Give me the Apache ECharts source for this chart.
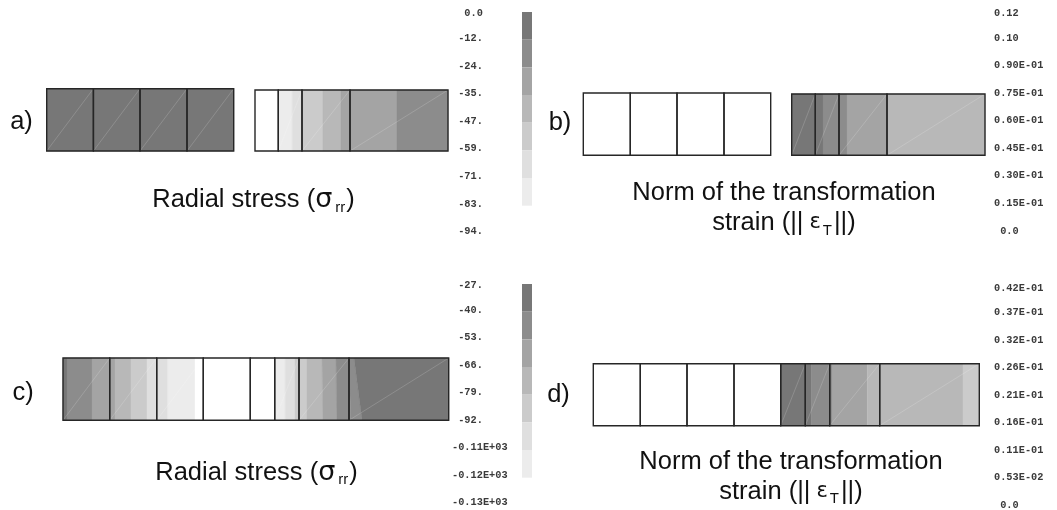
<!DOCTYPE html>
<html>
<head>
<meta charset="utf-8">
<style>html,body{margin:0;padding:0;background:#fff}#c{width:1057px;height:510px}</style>
<script src="https://cdn.jsdelivr.net/npm/echarts@6/dist/echarts.min.js"></script>
</head>
<body>
<div id="c"></div>
<script>
// Contour grey levels: darkest (0) to lightest (6), 7 = below the range (white)
const levelColors = ['#777777','#8c8c8c','#a4a4a4','#b8b8b8','#cbcbcb','#dfdfdf','#ececec','#ffffff'];
const scaleLevels = [0,1,2,3,4,5,6];

// Contour scale labels
const scaleA = ['0.0','-12.','-24.','-35.','-47.','-59.','-71.','-83.','-94.'];
const scaleB = ['0.12','0.10','0.90E-01','0.75E-01','0.60E-01','0.45E-01','0.30E-01','0.15E-01','0.0'];
const scaleC = ['-27.','-40.','-53.','-66.','-79.','-92.','-0.11E+03','-0.12E+03','-0.13E+03'];
const scaleD = ['0.42E-01','0.37E-01','0.32E-01','0.26E-01','0.21E-01','0.16E-01','0.11E-01','0.53E-02','0.0'];

// Element edges along the radius (panel units)
const edgesAL = [0,46.7,93.3,140.3,187];
const edgesAR = [0,23.3,47,95,193];
const edgesBL = [0,47,93.7,140.7,187.4];
const edgesBR = [0,23.6,47.3,95.3,193.3];
const edgesC  = [0,46.7,93.7,140.3,187.3,211.7,236,286,385.7];
const edgesD  = [0,47,93.7,140.7,187.4,212,236.4,286.4,386];

// Contour bands: [start, end, level, start at bottom, end at bottom]
const bandsAL = [[0,187,0]];
const bandsAR = [[0,23.3,7],[23.3,37.3,6],[37.3,47,5],[47,67.7,4],[67.7,85.7,3],[85.7,141.7,2],[141.7,193,1]];
const bandsBL = [[0,187.4,7]];
const bandsBR = [[0,31.3,0],[31.3,55.3,1],[55.3,95.3,2],[95.3,193.3,3]];
const bandsC  = [[0,4,0],[4,29,1],[29,52,2],[52,68,3],[68,84,4],[84,104.7,5],[104.7,132,6],[132,211.7,7],
                 [211.7,222.3,6],[222.3,232,5],[232,244,4],[244,259,3,244,259.7],[259,273,2,259.7,273.7],
                 [273,286,1,273.7,287.7],[286,291,1,287.7,299],[291,385.7,0,299,385.7]];
const bandsD  = [[0,187.4,7],[187.4,212,0],[212,218.3,0],[218.3,238.7,1],[238.7,274,2],[274,286.4,3],[286.4,369.7,3],[369.7,386,4]];

// Mesh blocks on the page
const blocks = [
  {edges:edgesAL,bands:bandsAL,left:46.7,top:88.7,width:187,height:62.3},
  {edges:edgesAR,bands:bandsAR,left:255,top:90,width:193,height:61},
  {edges:edgesBL,bands:bandsBL,left:583.3,top:93,width:187.4,height:62.3},
  {edges:edgesBR,bands:bandsBR,left:791.7,top:94,width:193.3,height:61.3},
  {edges:edgesC,bands:bandsC,left:63,top:358,width:385.7,height:62.3},
  {edges:edgesD,bands:bandsD,left:593.3,top:363.7,width:386,height:62}
];
const scaleBlocks = [
  {labels:scaleA,left:452,top:10.7,height:221},
  {labels:scaleB,left:994,top:10.4,height:220.6},
  {labels:scaleC,left:452,top:282.5,height:220.2},
  {labels:scaleD,left:994,top:285.4,height:220.6}
];
const bars = [{top:12,height:193.7},{top:284,height:193.7}];

const grid=[],xAxis=[],yAxis=[],series=[];
function addGrid(g,x,y){const i=grid.length;grid.push(g);xAxis.push(Object.assign({gridIndex:i,show:false},x));yAxis.push(Object.assign({gridIndex:i,show:false},y));return i;}

blocks.forEach(b=>{
  const i=addGrid({left:b.left,top:b.top,width:b.width,height:b.height},
    {type:'value',min:0,max:b.edges[b.edges.length-1]},{type:'value',min:0,max:1});
  series.push({type:'custom',xAxisIndex:i,yAxisIndex:i,silent:true,z:2,
    data:b.bands.map(d=>[d[0],d[1],d[2],d.length>3?d[3]:d[0],d.length>3?d[4]:d[1]]),
    renderItem(p,api){
      const a=api.coord([api.value(0),1]),c=api.coord([api.value(1),1]),
            e=api.coord([api.value(4),0]),f=api.coord([api.value(3),0]),col=levelColors[api.value(2)];
      return {type:'polygon',shape:{points:[a,c,e,f]},style:{fill:col,stroke:col,lineWidth:0.4}};
    }});
  series.push({type:'custom',xAxisIndex:i,yAxisIndex:i,silent:true,z:3,
    data:b.edges.slice(1).map((e,k)=>[b.edges[k],e]),
    renderItem(p,api){
      const bl=api.coord([api.value(0),0]),tr=api.coord([api.value(1),1]);
      return {type:'group',children:[
        {type:'line',shape:{x1:bl[0],y1:bl[1],x2:tr[0],y2:tr[1]},style:{stroke:'rgba(255,255,255,0.24)',lineWidth:0.7},z2:1},
        {type:'rect',shape:{x:bl[0],y:tr[1],width:tr[0]-bl[0],height:bl[1]-tr[1]},style:{fill:'none',stroke:'#262626',lineWidth:1.4},z2:2}
      ]};
    }});
});

scaleBlocks.forEach(s=>{
  const i=addGrid({left:s.left-6,top:s.top,width:2,height:s.height},
    {type:'value',min:0,max:1},
    {show:true,type:'category',inverse:true,position:'right',boundaryGap:false,data:s.labels,
     axisLine:{show:false},axisTick:{show:false},
     axisLabel:{show:true,interval:0,margin:4,align:'left',color:'#3a3a3a',
       fontFamily:'Liberation Mono',fontWeight:'bold',fontSize:10.3,
       formatter(v,idx){
         const w=(s.left===452)?(v.length<9?' '+v:v):v;
         const t=(v==='0.0')?' '+w:w;
         return idx===0?'{f|'+t+'}':t;
       },
       rich:{f:{padding:[5,0,0,0],fontFamily:'Liberation Mono',fontWeight:'bold',fontSize:10.3,color:'#3a3a3a'}}}});
  series.push({type:'line',xAxisIndex:i,yAxisIndex:i,data:[],silent:true});
});

bars.forEach(b=>{
  const i=addGrid({left:522,top:b.top,width:10,height:b.height},
    {type:'value',min:0,max:1},{type:'category',inverse:true,data:scaleLevels});
  series.push({type:'bar',xAxisIndex:i,yAxisIndex:i,silent:true,barCategoryGap:0,
    data:scaleLevels.map(l=>({value:1,itemStyle:{color:levelColors[l]}}))});
});

const rich={
  g:{fontFamily:'DejaVu Sans',fontSize:27,color:'#111',lineHeight:30},
  e:{fontFamily:'DejaVu Sans',fontSize:21,color:'#111',padding:[0,1,0,6]},
  sub:{fontFamily:'Liberation Sans',fontSize:15,color:'#111',verticalAlign:'bottom',padding:[8,1,0,3]},
  subT:{fontFamily:'Liberation Sans',fontSize:15,color:'#111',verticalAlign:'bottom',padding:[8,2,0,1]}
};
function t(text,x,y){return {text,left:x,top:y,textAlign:'center',textVerticalAlign:'middle',padding:0,
  textStyle:{fontFamily:'Liberation Sans',fontWeight:'normal',fontSize:25.5,color:'#111',lineHeight:30,rich}};}
const title=[
  t('a)',21.5,122),t('b)',560,123),t('c)',23,393),t('d)',558.5,395),
  t('Radial stress ({g|σ}{sub|rr})',253.5,200),
  t('Radial stress ({g|σ}{sub|rr})',256.5,472.5),
  t('Norm of the transformation\nstrain (||{e|ε}{subT|T}||)',784,208),
  t('Norm of the transformation\nstrain (||{e|ε}{subT|T}||)',791,476.5)
];

const chart=echarts.init(document.getElementById('c'),null,{renderer:'canvas'});
chart.setOption({animation:false,backgroundColor:'#ffffff',title,grid,xAxis,yAxis,series,tooltip:{show:false},legend:{show:false}});
</script>
</body>
</html>
